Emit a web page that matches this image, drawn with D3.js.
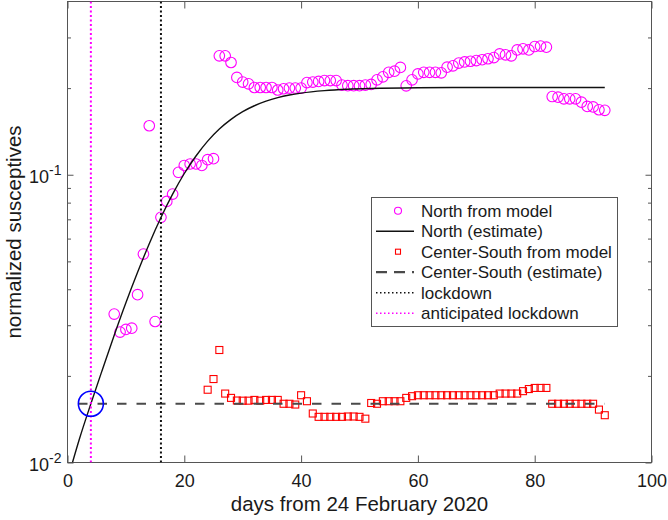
<!DOCTYPE html>
<html>
<head>
<meta charset="utf-8">
<script src="https://cdn.jsdelivr.net/npm/d3@7"></script>
<style>
  html, body { margin: 0; padding: 0; background: #fff; }
  svg { display: block; font-family: "Liberation Sans", Arial, Helvetica, sans-serif; }
</style>
</head>
<body>
<svg id="chart" width="668" height="520"></svg>
<script>
// ---------------- data ----------------
const northDays = d3.range(8, 93);
const northVals = [
  0.0328, 0.0284, 0.0290, 0.0293, 0.0383, 0.0530, 0.148, 0.0309, 0.0711, 0.0808,
  0.0857, 0.102, 0.1077, 0.109, 0.109, 0.1077, 0.1128, 0.1137, 0.259, 0.259,
  0.2455, 0.2178, 0.210, 0.207, 0.201, 0.201, 0.201, 0.201, 0.197, 0.199,
  0.200, 0.200, 0.200, 0.209, 0.210, 0.211, 0.2125, 0.2125, 0.2125, 0.205,
  0.204, 0.204, 0.204, 0.205, 0.206, 0.2138, 0.219, 0.227, 0.229, 0.236,
  0.2037, 0.2138, 0.224, 0.227, 0.227, 0.227, 0.226, 0.2365, 0.239, 0.2443,
  0.2467, 0.248, 0.2494, 0.251, 0.253, 0.2554, 0.263, 0.261, 0.259, 0.2716,
  0.274, 0.2716, 0.279, 0.280, 0.2775, 0.187, 0.186, 0.1836, 0.1836, 0.1836,
  0.1788, 0.1727, 0.172, 0.1682, 0.1675
];
const southDays = d3.range(24, 93);
const southVals = [
  0.0179, 0.0195, 0.0246, 0.01736, 0.01677, 0.01642, 0.0164, 0.0164, 0.0165, 0.0164,
  0.0165, 0.0165, 0.0165, 0.0160, 0.0160, 0.0159, 0.01713, 0.01633, 0.0148, 0.01441,
  0.01441, 0.01441, 0.01441, 0.01441, 0.01445, 0.01445, 0.01441, 0.0142, 0.0161, 0.0160,
  0.01633, 0.01633, 0.01633, 0.01633, 0.01677, 0.0170, 0.01713, 0.01713, 0.01713, 0.01713,
  0.01713, 0.01713, 0.01713, 0.01713, 0.01713, 0.01713, 0.01713, 0.01713, 0.01713, 0.01713,
  0.01736, 0.01736, 0.01736, 0.01736, 0.0177, 0.0180, 0.01816, 0.01816, 0.01816, 0.0160,
  0.0160, 0.0160, 0.0160, 0.0160, 0.0160, 0.0160, 0.0160, 0.01527, 0.0146
];
const northEstDays = [0.85, 2, 4, 6, 8, 10, 12, 14, 16, 18, 20, 22, 24, 26, 28, 30, 32, 34, 36, 38, 40, 44, 48, 52, 60, 70, 80, 92];
const northEstVals = [0.0100, 0.0120, 0.0160, 0.0211, 0.0277, 0.0359, 0.0458, 0.0576, 0.0710, 0.0856, 0.1010, 0.1162, 0.1309, 0.1442, 0.1558, 0.1657, 0.1737, 0.1802, 0.1853, 0.1892, 0.1922, 0.1961, 0.1983, 0.1995, 0.2006, 0.2010, 0.2011, 0.2011];
const southEstDays = [0, 92];
const southEstVals = [0.016, 0.016];
const lockdownDay = 16;
const anticipatedDay = 4;
const markDays = [4];
const markVals = [0.016];
const xTicks = [0, 20, 40, 60, 80, 100];
const yMajorTicks = [0.01, 0.1];
const yMinorTicks = [0.02, 0.03, 0.04, 0.05, 0.06, 0.07, 0.08, 0.09, 0.2, 0.3];
const legendLabels = ["North from model", "North (estimate)", "Center-South from model",
                      "Center-South (estimate)", "lockdown", "anticipated lockdown"];
const xLabel = "days from 24 February 2020";
const yLabel = "normalized susceptives";

// ---------------- layout ----------------
const L = 67.5, R = 651.5, T = 1.5, B = 462.5;
const axisColor = "#555";
const textColor = "#1a1a1a";
const svg = d3.select("#chart");
const x = d3.scaleLinear().domain([0, 100]).range([L, R]);
const y = d3.scaleLog().domain([0.01, 0.4]).range([B, T]);

svg.append("defs").append("clipPath").attr("id", "clip")
  .append("rect").attr("x", L).attr("y", T).attr("width", R - L).attr("height", B - T);

// axes
function styleAxis(g) {
  g.select(".domain").remove();
  g.selectAll("line").attr("stroke", axisColor).attr("stroke-width", 1);
  g.attr("font-family", null).attr("font-size", null);
  g.selectAll("text").attr("fill", textColor).attr("font-size", 18);
}
svg.append("g").attr("transform", `translate(0,${B})`)
  .call(d3.axisBottom(x).tickValues(xTicks).tickSizeInner(-7).tickSizeOuter(0).tickPadding(12).tickFormat(d3.format("d")))
  .call(styleAxis);
svg.append("g").attr("transform", `translate(0,${T})`)
  .call(d3.axisTop(x).tickValues(xTicks).tickSizeInner(-7).tickSizeOuter(0).tickFormat(""))
  .call(styleAxis);
svg.append("g").attr("transform", `translate(${L},0)`)
  .call(d3.axisLeft(y).tickValues(yMinorTicks).tickSizeInner(-3.5).tickSizeOuter(0).tickFormat(""))
  .call(styleAxis);
svg.append("g").attr("transform", `translate(${R},0)`)
  .call(d3.axisRight(y).tickValues(yMinorTicks).tickSizeInner(-3.5).tickSizeOuter(0).tickFormat(""))
  .call(styleAxis);
svg.append("g").attr("transform", `translate(${R},0)`)
  .call(d3.axisRight(y).tickValues(yMajorTicks).tickSizeInner(-6).tickSizeOuter(0).tickFormat(""))
  .call(styleAxis);
const yMaj = svg.append("g").attr("transform", `translate(${L},0)`)
  .call(d3.axisLeft(y).tickValues(yMajorTicks).tickSizeInner(-6).tickSizeOuter(0).tickPadding(6).tickFormat(""))
  .call(styleAxis);
yMaj.selectAll(".tick text").each(function (d) {
  const t = d3.select(this);
  t.attr("dy", 8).attr("x", -6);
  t.append("tspan").text("10");
  t.append("tspan").attr("dy", -8).attr("font-size", 14).text(String(Math.round(Math.log10(d))));
});

// box
svg.append("rect").attr("x", L).attr("y", T).attr("width", R - L).attr("height", B - T)
  .attr("fill", "none").attr("stroke", axisColor).attr("stroke-width", 1);

// labels
svg.append("text").attr("x", (L + R) / 2).attr("y", 511).attr("text-anchor", "middle")
  .attr("font-size", 20.5).attr("fill", textColor).text(xLabel);
svg.append("text").attr("transform", "translate(21,232) rotate(-90)").attr("text-anchor", "middle")
  .attr("font-size", 20.5).attr("fill", textColor).text(yLabel);

// plot content
const plot = svg.append("g").attr("clip-path", "url(#clip)");
const north = northDays.map((d, i) => [d, northVals[i]]);
const south = southDays.map((d, i) => [d, southVals[i]]);
const nEst = northEstDays.map((d, i) => [d, northEstVals[i]]);
const sEst = southEstDays.map((d, i) => [d, southEstVals[i]]);
const line = d3.line().x(d => x(d[0])).y(d => y(d[1]));

plot.append("g").selectAll("circle").data(north).join("circle")
  .attr("cx", d => x(d[0])).attr("cy", d => y(d[1])).attr("r", 5.3)
  .attr("fill", "none").attr("stroke", "#ff00ff").attr("stroke-width", 1.1);
plot.append("path").datum(nEst).attr("d", line.curve(d3.curveMonotoneX))
  .attr("fill", "none").attr("stroke", "#111").attr("stroke-width", 1.4);
plot.append("g").selectAll("rect").data(south).join("rect")
  .attr("x", d => x(d[0]) - 3.5).attr("y", d => y(d[1]) - 3.5).attr("width", 7).attr("height", 7)
  .attr("fill", "none").attr("stroke", "#ff0000").attr("stroke-width", 1.1);
plot.append("path").datum(sEst).attr("d", d3.line().x(d => x(d[0])).y(d => y(d[1])))
  .attr("fill", "none").attr("stroke", "#4a4a4a").attr("stroke-width", 2.2)
  .attr("stroke-dasharray", "9.5,10").attr("stroke-dashoffset", 9);
plot.append("line").attr("x1", x(lockdownDay)).attr("x2", x(lockdownDay)).attr("y1", y(0.01)).attr("y2", y(0.4))
  .attr("stroke", "#111").attr("stroke-width", 2).attr("stroke-dasharray", "2,2.5");
plot.append("line").attr("x1", x(anticipatedDay)).attr("x2", x(anticipatedDay)).attr("y1", y(0.01)).attr("y2", y(0.4))
  .attr("stroke", "#ff00ff").attr("stroke-width", 2).attr("stroke-dasharray", "2,2.5");
plot.append("g").selectAll("circle").data(markDays.map((d, i) => [d, markVals[i]])).join("circle")
  .attr("cx", d => x(d[0])).attr("cy", d => y(d[1])).attr("r", 12.5)
  .attr("fill", "none").attr("stroke", "#0000ff").attr("stroke-width", 1.6);

// legend
const lg = svg.append("g");
lg.append("rect").attr("x", 371.5).attr("y", 197.5).attr("width", 246).attr("height", 129)
  .attr("fill", "#fff").attr("stroke", axisColor).attr("stroke-width", 1);
const rowY = i => 210.7 + i * 20.5;
legendLabels.forEach((lab, i) => {
  lg.append("text").attr("x", 421).attr("y", rowY(i) + 6).attr("font-size", 17)
    .attr("fill", textColor).text(lab);
});
lg.append("circle").attr("cx", 398).attr("cy", rowY(0)).attr("r", 3.5)
  .attr("fill", "none").attr("stroke", "#ff00ff").attr("stroke-width", 1.1);
lg.append("line").attr("x1", 376).attr("x2", 414).attr("y1", rowY(1)).attr("y2", rowY(1))
  .attr("stroke", "#111").attr("stroke-width", 1.4);
lg.append("rect").attr("x", 395.5).attr("y", rowY(2) - 2.5).attr("width", 5).attr("height", 5)
  .attr("fill", "none").attr("stroke", "#ff0000").attr("stroke-width", 1.1);
lg.append("line").attr("x1", 376).attr("x2", 414).attr("y1", rowY(3)).attr("y2", rowY(3))
  .attr("stroke", "#4a4a4a").attr("stroke-width", 2.2).attr("stroke-dasharray", "11,7");
lg.append("line").attr("x1", 376).attr("x2", 414).attr("y1", rowY(4)).attr("y2", rowY(4))
  .attr("stroke", "#111").attr("stroke-width", 1.5).attr("stroke-dasharray", "1.5,2.5");
lg.append("line").attr("x1", 376).attr("x2", 414).attr("y1", rowY(5)).attr("y2", rowY(5))
  .attr("stroke", "#ff00ff").attr("stroke-width", 1.5).attr("stroke-dasharray", "1.5,2.5");
</script>
</body>
</html>
